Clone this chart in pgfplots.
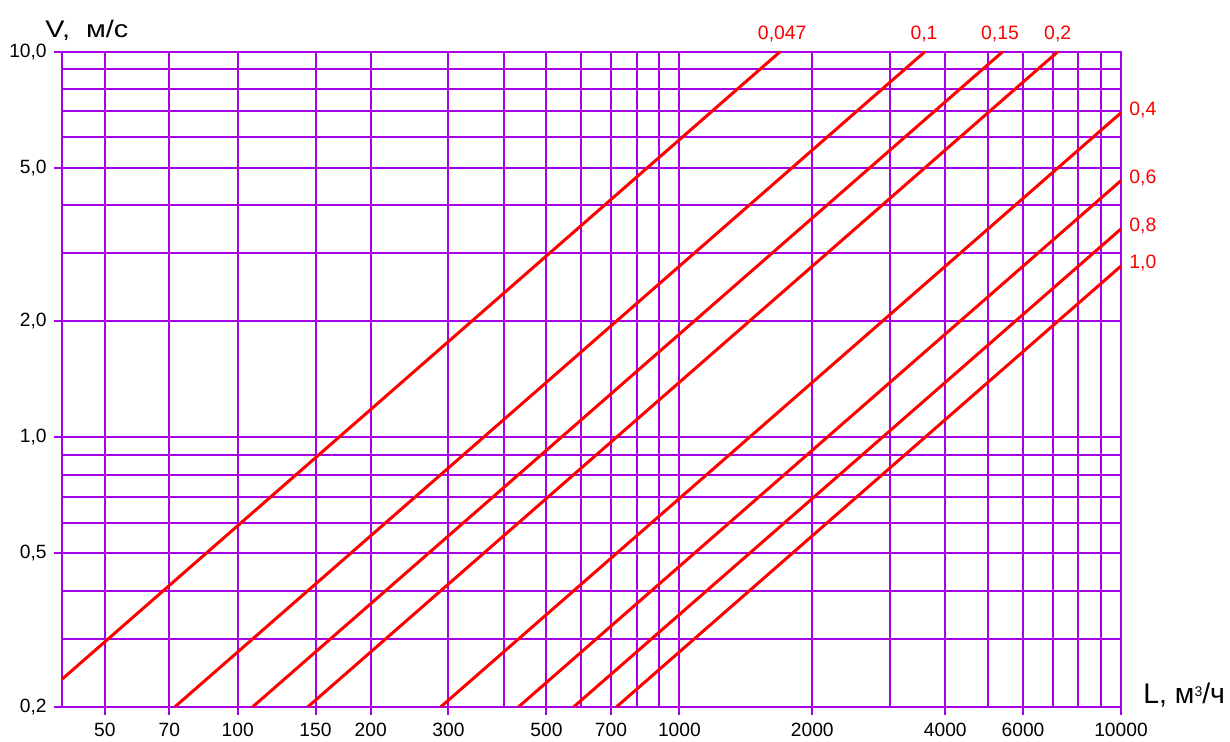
\documentclass[border=0pt]{standalone}
\usepackage{fontspec}
\setmainfont{Liberation Sans}
\usepackage{pgfplots}
\pgfplotsset{compat=1.18}
\definecolor{gridc}{RGB}{165,0,230}
\definecolor{linec}{RGB}{255,0,0}
\tikzset{vline/.style={draw=linec, line width=1.5pt, solid, mark=none}}

\begin{document}
\begin{tikzpicture}
\useasboundingbox (-31pt,-17.5pt) rectangle (584pt,353.5pt);
\begin{axis}[
    xmode=log, ymode=log,
    scale only axis,
    width=529.5pt, height=327.7pt,
    xmin=40, xmax=10000,
    ymin=0.2, ymax=10,
    xtick={50,70,100,150,200,300,500,700,1000,2000,4000,6000,10000},
    xticklabels={50,70,100,150,200,300,500,700,1000,2000,4000,6000,10000},
    minor xtick={400,600,800,900,3000,5000,7000,8000,9000},
    ytick={0.2,0.5,1,2,5,10},
    yticklabels={{0,2},{0,5},{1,0},{2,0},{5,0},{10,0}},
    minor ytick={0.3,0.4,0.6,0.7,0.8,0.9,3,4,6,7,8,9},
    xtick pos=bottom, ytick pos=left,
    grid=both,
    major grid style={draw=gridc, line width=1pt},
    minor grid style={draw=gridc, line width=1pt},
    axis line style={draw=gridc, line width=1pt},
    tick align=outside,
    major tick length=4pt,
    minor tick length=0pt,
    tick style={draw=gridc, line width=1pt},
    xticklabel style={inner sep=0pt, yshift=-4pt, font=\fontsize{9.6}{11}\selectfont},
    yticklabel style={inner sep=0pt, xshift=-3.5pt, font=\fontsize{9.6}{11}\selectfont},
    clip mode=individual,
]
% velocity lines, one per duct area (m2)
\addplot[vline] coordinates {(40,0.236) (1692,10)};     % 0,047
\addplot[vline] coordinates {(72,0.2) (3600,10)};       % 0,1
\addplot[vline] coordinates {(108,0.2) (5400,10)};      % 0,15
\addplot[vline] coordinates {(144,0.2) (7200,10)};      % 0,2
\addplot[vline] coordinates {(288,0.2) (10000,6.94)};   % 0,4
\addplot[vline] coordinates {(432,0.2) (10000,4.63)};   % 0,6
\addplot[vline] coordinates {(576,0.2) (10000,3.47)};   % 0,8
\addplot[vline] coordinates {(720,0.2) (10000,2.78)};   % 1,0

\tikzset{toplab/.style={anchor=base, inner sep=0pt, text=linec, yshift=5.85pt, font=\fontsize{9.7}{11}\selectfont},
         sidelab/.style={anchor=west, inner sep=0pt, text=linec, xshift=4pt, yshift=1.5pt, font=\fontsize{9.7}{11}\selectfont}}
\node[toplab] at (axis cs:1710,10) {0,047};
\node[toplab] at (axis cs:3580,10) {0,1};
\node[toplab] at (axis cs:5320,10) {0,15};
\node[toplab] at (axis cs:7190,10) {0,2};
\node[sidelab] at (axis cs:10000,6.94) {0,4};
\node[sidelab] at (axis cs:10000,4.63) {0,6};
\node[sidelab] at (axis cs:10000,3.47) {0,8};
\node[sidelab] at (axis cs:10000,2.78) {1,0};

\node[anchor=base west, inner sep=0pt, xshift=-8.5pt, yshift=7pt, xscale=1.2, font=\fontsize{12}{14}\selectfont]
    at (rel axis cs:0,1) {V,\ \ м/с};
\node[anchor=base west, inner sep=0pt, xshift=11pt, yshift=1.5pt, font=\fontsize{14.2}{16}\selectfont]
    at (rel axis cs:1,0) {L, м\raisebox{3.5pt}{\fontsize{7}{8}\selectfont 3}/ч};
\end{axis}
\end{tikzpicture}
\end{document}
